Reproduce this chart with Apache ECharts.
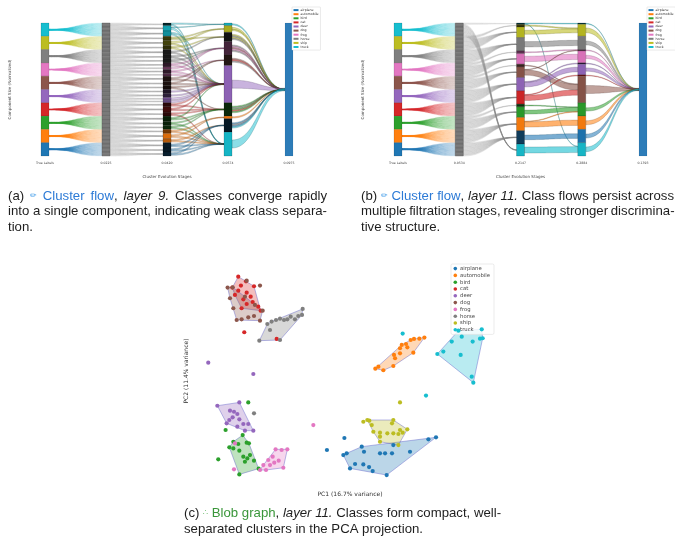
<!DOCTYPE html>
<html><head><meta charset="utf-8">
<script src="https://cdn.jsdelivr.net/npm/echarts@6/dist/echarts.min.js"></script>
<style>html,body{margin:0;padding:0;background:#fff}#c{width:675px;height:537px}</style>
</head><body><div id="c"></div>
<script>
// ---------------- DATA ----------------
const classes = ['airplane','automobile','bird','cat','deer','dog','frog','horse','ship','truck'];
const palette = ['#1f77b4','#ff7f0e','#2ca02c','#d62728','#9467bd','#8c564b','#e377c2','#7f7f7f','#bcbd22','#17becf'];

const stagesA = ['True Labels','0.0225','0.0420','0.0574','0.0975'];
const stagesB = ['True Labels','0.0534','0.2147','0.2884','0.1393'];

// class order of the "True Labels" column, top to bottom
const trueLabelOrder = [9,8,7,6,5,4,3,2,1,0];
const samplesPerClass = 10;

// panel (a) components: [class, size]
const a2 = [[9,2],[9,4],[9,4],[8,3],[8,4],[8,3],[7,4],[7,3],[7,3],[6,3],[6,2],[6,3],[6,2],
            [5,4],[5,3],[5,3],[4,3],[4,3],[4,2],[4,2],[3,3],[3,4],[3,3],[2,4],[2,3],[2,3],
            [1,3],[1,4],[1,3],[0,4],[0,3],[0,3]];
const a3 = [[9,2],[8,5],[7,7],[6,10],[5,8],[4,28],[2,10],[1,2],[0,10],[9,18]];
const a4 = [[0,100]];
// flows [source, target, value, class]
const a23 = [[0,0,1,9],[0,9,1,9],[1,9,1.5,9],[1,0,0.5,9],[2,9,1,9],[2,5,1,9],
  [3,1,1,8],[3,2,1,8],[4,1,1.5,8],[4,5,1,8],[5,2,1,8],[5,5,1,8],
  [6,2,1,7],[6,5,1,7],[7,3,1,7],[7,5,1,7],[8,3,1,7],[8,5,1,7],
  [9,3,1,6],[9,5,1,6],[10,3,1,6],[11,5,1,6],[11,4,1,6],[12,5,1,6],
  [13,4,1,5],[13,5,1,5],[14,5,1,5],[14,4,1,5],[15,5,1,5],[15,6,1,5],
  [16,5,1,4],[17,5,1,4],[18,5,1.5,4],[19,5,1.5,4],
  [20,5,1,3],[20,6,1,3],[21,5,1,3],[21,6,1,3],[22,6,1,3],[22,9,1,3],
  [23,6,1,2],[23,5,1,2],[24,6,1,2],[24,9,1,2],[25,9,1,2],[25,6,1,2],
  [26,7,1,1],[26,9,1,1],[27,9,1,1],[27,7,1,1],[28,9,1,1],[28,8,1,1],
  [29,8,1,0],[29,9,1,0],[30,8,1,0],[30,9,1,0],[31,9,1,0],[31,8,1,0]];
const a34 = [[0,0,1,9],[1,0,1.5,8],[1,0,1,8],[2,0,1,8],[2,0,1,7],[2,0,1,8],[2,0,1,7],
  [3,0,1,7],[3,0,1,6],[3,0,1,5],[3,0,1,6],[3,0,1,7],[4,0,1,5],[4,0,1,3],[4,0,1,7],
  [5,0,6,4],[6,0,1,2],[6,0,1,7],[6,0,1,2],[6,0,1,3],[6,0,1,2],[7,0,1,1],
  [8,0,1,0],[8,0,1,7],[8,0,1,0],[8,0,1,9],[9,0,6,9]];

// panel (b) components
const b2 = [[9,1],[8,2],[8,8],[7,10],[6,2],[6,8],[5,2],[5,8],[4,10],[3,10],[2,2],[2,8],[1,10],[0,10],[9,9]];
const b3 = [[9,1],[8,9],[7,10],[6,1],[6,9],[4,1],[4,8],[3,1],[5,20],[2,10],[1,10],[0,10],[9,10]];
const b4 = [[0,100]];
const b23 = [[0,0,0.5,9],[0,12,0.4,9],[1,1,0.8,8],[2,1,3,8],[3,2,4,7],[4,3,0.6,6],[5,4,4,6],
  [6,8,0.6,5],[7,8,4,5],[7,3,0.4,5],[8,6,3.5,4],[8,5,0.6,4],[9,8,4,3],[9,7,0.6,3],
  [10,9,0.6,2],[11,9,3,2],[12,10,4,1],[12,9,0.5,1],[13,11,3.5,0],[14,12,4.5,9]];
const b34 = [[0,0,0.5,9],[1,0,3.5,8],[2,0,3,7],[3,0,0.5,6],[4,0,2.5,6],[5,0,0.5,4],[6,0,2.5,4],
  [7,0,0.5,3],[8,0,6,5],[9,0,2.5,2],[10,0,3,1],[11,0,3,0],[12,0,3.5,9]];

// panel (c) PCA scores: points inside each blob, and stray points
const airplanePts = [[0.75,-4.0],[1.88,-3.5],[2.05,-3.88],[3.25,-4.0],[3.63,-4.0],[4.15,-4.0],[4.25,-3.38],[5.5,-3.88],[6.88,-2.95],[7.45,-2.8],[1.38,-4.8],[2.0,-4.83],[2.43,-5.03],[2.7,-5.33],[1.0,-5.13],[3.75,-5.63],[0.5,-4.13]];
const airplaneOut = [[0.58,-2.85],[-0.73,-3.75]];
const automobilePts = [[3.13,2.5],[3.5,2.23],[4.25,2.55],[4.38,3.13],[4.75,3.5],[4.3,3.38],[4.75,3.88],[4.88,4.13],[5.2,4.2],[5.3,3.95],[5.55,4.5],[5.8,4.58],[6.2,4.6],[6.58,4.68],[5.75,3.55],[2.9,2.35]];
const automobileOut = [];
const birdPts = [[-7.05,-2.63],[-7.75,-3.13],[-8.05,-3.55],[-7.38,-3.3],[-6.75,-3.2],[-6.58,-3.25],[-7.3,-3.8],[-7.0,-4.25],[-6.7,-4.38],[-6.5,-4.13],[-6.88,-4.63],[-6.2,-4.55],[-7.3,-5.58],[-5.85,-5.15],[-7.75,-3.63]];
const birdOut = [[-6.63,-0.18],[-8.33,-2.25],[-8.88,-4.45]];
const catPts = [[-7.38,9.25],[-6.8,8.9],[-6.2,8.53],[-7.83,8.43],[-7.18,8.58],[-7.38,8.2],[-6.75,8.05],[-7.63,7.88],[-6.45,7.75],[-7.0,7.55],[-6.3,7.35],[-6.75,7.2],[-5.88,7.0],[-5.7,6.7],[-7.13,6.88]];
const catOut = [[-6.93,5.08],[-4.5,4.58]];
const deerPts = [[-8.95,-0.43],[-7.3,-0.18],[-8.0,-0.8],[-7.7,-0.88],[-7.45,-1.05],[-7.8,-1.3],[-7.3,-1.45],[-8.05,-1.5],[-7.0,-1.8],[-6.63,-1.8],[-6.88,-2.3],[-6.25,-2.3],[-7.45,-2.0],[-8.25,-1.75]];
const deerOut = [[-9.63,2.8],[-6.25,1.95]];
const dogPts = [[-8.18,8.43],[-7.8,8.45],[-6.88,7.75],[-6.13,7.13],[-5.55,6.7],[-5.75,5.95],[-6.2,6.3],[-6.63,6.2],[-7.13,6.05],[-7.5,6.0],[-7.75,6.88],[-8.0,7.63]];
const dogOut = [[-5.75,8.58],[-6.75,8.95]];
const frogPts = [[-5.75,-5.25],[-5.5,-4.88],[-5.13,-4.5],[-4.8,-4.25],[-4.58,-3.7],[-4.13,-3.75],[-3.7,-3.7],[-5.0,-4.88],[-4.68,-4.7],[-4.35,-4.55],[-4.0,-5.08],[-5.3,-5.25]];
const frogOut = [[-1.75,-1.88],[-7.7,-5.2],[-7.63,-3.25]];
const horsePts = [[-5.8,4.45],[-5.2,5.7],[-4.88,5.88],[-4.55,6.0],[-4.25,6.1],[-3.95,6.0],[-3.7,6.05],[-3.45,6.25],[-3.13,6.05],[-2.88,6.3],[-2.55,6.83],[-2.6,6.38],[-5.0,5.25],[-4.25,4.5]];
const horseOut = [[-6.2,-1.0]];
const shipPts = [[2.45,-1.55],[2.63,-1.88],[2.75,-2.38],[3.25,-2.45],[3.8,-2.5],[4.15,-1.75],[4.25,-2.5],[4.63,-2.55],[4.75,-2.25],[4.95,-2.45],[5.3,-2.2],[4.63,-3.38],[3.25,-3.13],[3.25,-2.75],[4.25,-1.5],[2.3,-1.5]];
const shipOut = [[2.0,-1.63],[4.75,-0.18]];
const truckPts = [[7.55,3.45],[8.0,3.63],[8.63,4.38],[9.3,3.38],[9.38,4.75],[10.2,4.38],[10.75,4.6],[10.95,4.63],[10.13,1.75],[10.25,1.3],[10.88,5.3],[9.13,5.2]];
const truckOut = [[4.95,4.98],[6.7,0.33]];

const pc1Title = 'PC1 (16.7% variance)';
const pc2Title = 'PC2 (11.4% variance)';

const captionA = ['(a) {ic|✏} {bl|Cluster} {bl|flow}, {it|layer} {it|9.} Classes converge rapidly',
                  'into a single component, indicating weak class separa-', 'tion.'];
const captionB = ['(b) {ic|✏} {bl|Cluster} {bl|flow}, {it|layer} {it|11.} Class flows persist across',
                  'multiple filtration stages, revealing stronger discrimina-', 'tive structure.'];
const captionC = ['(c) {icg|∴} {gr|Blob} {gr|graph}, {it|layer} {it|11.} Classes form compact, well-',
                  'separated clusters in the PCA projection.'];

// ---------------- STYLE / LAYOUT ----------------
const NODE_W = 8;
const shadeA2 = [0.8,0.15,0.25, 0.7,0.65,0.75, 0.8,0.8,0.8, 0.8,0.55,0.8,0.65, 0.8,0.8,0.85, 0.8,0.7,0.25,0.35, 0.8,0.7,0.8, 0.8,0.8,0.75, 0.55,0.15,0.3, 0.8,0.8,0.75];
const shadeA3 = [0.1,0.1,0.85,0.7,0.75,0.05,0.75,0.1,0.8,0.05];
const shadeB2 = [0.7,0.7,0.05,0.05,0.6,0.05,0.6,0.05,0.05,0.05,0.7,0.05,0.05,0.5,0.05];
const shadeB3 = [0.7,0.05,0.05,0.7,0.05,0.7,0.05,0.5,0.05,0.05,0.05,0.05,0.05];
const modesA = [
  {src:'center', sk:0.8, tgt:'stack', tk:1, kind:'fade'},
  {src:'stack', sk:1, tgt:'center', tk:0.6, kind:'gray'},
  {src:'stack', sk:1, tgt:'center', tk:0.4, kind:'class', alpha:0.35},
  {src:'stack', sk:1, tgt:'center', tk:0.3, kind:'class', alpha:0.5}];
const modesB = [
  {src:'center', sk:0.8, tgt:'stack', tk:1, kind:'fade'},
  {src:'stack', sk:1, tgt:'center', tk:0.25, kind:'gray'},
  {src:'stack', sk:1, tgt:'stack', tk:1, kind:'class', alpha:0.6},
  {src:'stack', sk:1, tgt:'center', tk:0.3, kind:'class', alpha:0.55}];

function hexRGB(h){return [parseInt(h.slice(1,3),16),parseInt(h.slice(3,5),16),parseInt(h.slice(5,7),16)];}
function rgba(h,a){const c=hexRGB(h);return `rgba(${c[0]},${c[1]},${c[2]},${a})`;}
function darken(h,s,a){const c=hexRGB(h).map(v=>Math.round(v*(1-s)));return a==null?`rgb(${c[0]},${c[1]},${c[2]})`:`rgba(${c[0]},${c[1]},${c[2]},${a})`;}

function buildSankey(s2, s3, s4, l23, l34, sh2, sh3, modes){
  const st = [];
  st.push(trueLabelOrder.map(c=>({cls:c,size:samplesPerClass,fill:palette[c],stroke:'rgba(0,0,0,0.3)',lw:0.4})));
  const s1=[]; trueLabelOrder.forEach(c=>{for(let i=0;i<samplesPerClass;i++) s1.push({cls:c,size:1,fill:'#818181',stroke:'#4f4f4f',lw:0.35});});
  st.push(s1);
  st.push(s2.map((d,i)=>({cls:d[0],size:d[1],fill:darken(palette[d[0]],sh2[i]),stroke:'rgba(0,0,0,0.45)',lw:0.4})));
  st.push(s3.map((d,i)=>({cls:d[0],size:d[1],fill:darken(palette[d[0]],sh3[i]),stroke:'rgba(0,0,0,0.4)',lw:0.4})));
  st.push(s4.map(d=>({cls:d[0],size:d[1],fill:'#2d7cb8',stroke:'rgba(0,0,0,0.2)',lw:0.3})));
  st.forEach(ns=>{let acc=0;ns.forEach(n=>{n.y0=acc;acc+=n.size;n.y1=acc;n.c=(n.y0+n.y1)/2;});});
  const L=[[],[],[],[]];
  let k=0;
  trueLabelOrder.forEach((c,i)=>{for(let j=0;j<samplesPerClass;j++){L[0].push({s:i,t:k,v:1,cls:c});k++;}});
  const cap=st[2].map(n=>n.size);
  s1.forEach((n,idx)=>{const t=st[2].findIndex((m,j)=>m.cls===n.cls&&cap[j]>0);cap[t]-=1;L[1].push({s:idx,t:t,v:1,cls:7});});
  l23.forEach(d=>L[2].push({s:d[0],t:d[1],v:d[2],cls:d[3]}));
  l34.forEach(d=>L[3].push({s:d[0],t:d[1],v:d[2],cls:d[3]}));
  const elems=[];
  L.forEach((links,si)=>{
    const m=modes[si], A=st[si], B=st[si+1];
    const bySrc={}; links.forEach(l=>{(bySrc[l.s]=bySrc[l.s]||[]).push(l);});
    Object.keys(bySrc).forEach(key=>{
      const arr=bySrc[key], n=A[key];
      if(m.src==='center'){arr.forEach(l=>{const w=l.v*m.sk;l.a0=n.c-w/2;l.a1=n.c+w/2;});}
      else{const srt=arr.slice().sort((p,q)=>B[p.t].c-B[q.t].c);const tot=srt.reduce((s,l)=>s+l.v*m.sk,0);let y=n.c-tot/2;srt.forEach(l=>{l.a0=y;y+=l.v*m.sk;l.a1=y;});}
    });
    const byTgt={}; links.forEach(l=>{(byTgt[l.t]=byTgt[l.t]||[]).push(l);});
    Object.keys(byTgt).forEach(key=>{
      const arr=byTgt[key], n=B[key];
      if(m.tgt==='center'){arr.forEach(l=>{const w=l.v*m.tk;l.b0=n.c-w/2;l.b1=n.c+w/2;});}
      else{const srt=arr.slice().sort((p,q)=>A[p.s].c-A[q.s].c);const tot=srt.reduce((s,l)=>s+l.v*m.tk,0);let y=n.c-tot/2;srt.forEach(l=>{l.b0=y;y+=l.v*m.tk;l.b1=y;});}
    });
    links.forEach(l=>{
      const col=palette[l.cls];
      let fill,stroke,lw;
      if(m.kind==='fade'){fill=new echarts.graphic.LinearGradient(0,0,1,0,[{offset:0,color:rgba(col,0.7)},{offset:1,color:rgba(col,0.2)}]);stroke=rgba(col,0.22);lw=0.3;}
      else if(m.kind==='gray'){fill='rgba(175,175,175,0.26)';stroke='rgba(120,120,120,0.35)';lw=0.35;}
      else{fill=rgba(col,m.alpha);stroke=darken(col,0.55,0.55);lw=0.4;}
      elems.push({kind:'link',sa:si,sb:si+1,a0:l.a0,a1:l.a1,b0:l.b0,b1:l.b1,fill,stroke,lw});
    });
  });
  st.forEach((ns,si)=>ns.forEach(n=>elems.push({kind:'node',stage:si,y0:n.y0,y1:n.y1,fill:n.fill,stroke:n.stroke,lw:n.lw})));
  return elems;
}

function bez(xa,ya,xb,yb,t){const xm=(xa+xb)/2,u=1-t;
  return [u*u*u*xa+3*u*u*t*xm+3*u*t*t*xm+t*t*t*xb, ya*(u*u*u+3*u*u*t)+yb*(3*u*t*t+t*t*t)];}

function sankeySeries(elems, gi){
  return {type:'custom', name:'flow'+gi, xAxisIndex:gi, yAxisIndex:gi, clip:false, silent:true, animation:false,
    data: elems.map(e=>[e.kind==='node'?e.stage:e.sa, e.kind==='node'?e.y0:e.a0]),
    renderItem:(params,api)=>{
      const e=elems[params.dataIndex];
      if(e.kind==='node'){
        const p0=api.coord([e.stage,e.y0]),p1=api.coord([e.stage,e.y1]);
        return {type:'rect',shape:{x:p0[0]-NODE_W/2,y:p0[1],width:NODE_W,height:p1[1]-p0[1]},style:{fill:e.fill,stroke:e.stroke,lineWidth:e.lw}};
      }
      const a0=api.coord([e.sa,e.a0]),a1=api.coord([e.sa,e.a1]),b0=api.coord([e.sb,e.b0]),b1=api.coord([e.sb,e.b1]);
      const xa=a0[0]+NODE_W/2, xb=b0[0]-NODE_W/2, N=28, pts=[];
      for(let i=0;i<=N;i++) pts.push(bez(xa,a0[1],xb,b0[1],i/N));
      for(let i=N;i>=0;i--) pts.push(bez(xa,a1[1],xb,b1[1],i/N));
      return {type:'polygon',shape:{points:pts},style:{fill:e.fill,stroke:e.stroke,lineWidth:e.lw}};
    }};
}

const elemsA = buildSankey(a2,a3,a4,a23,a34,shadeA2,shadeA3,modesA);
const elemsB = buildSankey(b2,b3,b4,b23,b34,shadeB2,shadeB3,modesB);

const pts = [airplanePts,automobilePts,birdPts,catPts,deerPts,dogPts,frogPts,horsePts,shipPts,truckPts];
const outs = [airplaneOut,automobileOut,birdOut,catOut,deerOut,dogOut,frogOut,horseOut,shipOut,truckOut];

function hull(p){
  const s=p.slice().sort((a,b)=>a[0]-b[0]||a[1]-b[1]);
  const cr=(o,a,b)=>(a[0]-o[0])*(b[1]-o[1])-(a[1]-o[1])*(b[0]-o[0]);
  const lo=[],up=[];
  for(const q of s){while(lo.length>=2&&cr(lo[lo.length-2],lo[lo.length-1],q)<=0)lo.pop();lo.push(q);}
  for(const q of s.slice().reverse()){while(up.length>=2&&cr(up[up.length-2],up[up.length-1],q)<=0)up.pop();up.push(q);}
  return lo.slice(0,-1).concat(up.slice(0,-1));
}
const hulls = pts.map(hull);

// ---------------- AXES ----------------
const FONT_M = 'DejaVu Sans';
function sankeyAxes(gi, labels){
  return {
    x:{type:'value',gridIndex:gi,min:0,max:4,interval:1,
       axisLine:{show:false},axisTick:{show:false},splitLine:{show:false},
       axisLabel:{show:true,showMinLabel:true,showMaxLabel:true,formatter:v=>labels[v]||'',fontSize:3.2,color:'#444',margin:6,fontFamily:FONT_M},
       name:'Cluster Evolution Stages',nameLocation:'middle',nameGap:19,nameTextStyle:{fontSize:4,color:'#444',fontFamily:FONT_M}},
    y:{type:'value',gridIndex:gi,min:0,max:100,inverse:true,
       axisLine:{show:false},axisTick:{show:false},splitLine:{show:false},axisLabel:{show:false},
       name:'Component Size (Normalized)',nameLocation:'middle',nameGap:33,nameRotate:90,nameTextStyle:{fontSize:4,color:'#444',fontFamily:FONT_M}}
  };
}
const axA=sankeyAxes(0,stagesA), axB=sankeyAxes(1,stagesB);

function legendAt(left,top,icon,small){
  return small ? {left,top,orient:'vertical',selectedMode:false,
      data:classes.map(n=>({name:n,icon:icon})),itemWidth:5,itemHeight:2,itemGap:0.9,
      textStyle:{fontSize:3.2,lineHeight:3.2,color:'#333',fontFamily:FONT_M,padding:[0,0,0,-3]},
      padding:[1.5,2,1.5,1.5],borderColor:'#ccc',borderWidth:0.4,borderRadius:0.5,backgroundColor:'#fff'}
   : {left,top,orient:'vertical',selectedMode:false,
      data:classes.map(n=>({name:n,icon:icon})),itemWidth:3.6,itemHeight:3.6,itemGap:1.6,
      textStyle:{fontSize:5.3,lineHeight:5.2,color:'#444',fontFamily:FONT_M,padding:[0,0,0,-2]},
      padding:[2,4,2,2.5],borderColor:'#ddd',borderWidth:0.6,borderRadius:1.5,backgroundColor:'rgba(255,255,255,0.8)'};
}

// ---------------- CAPTIONS ----------------
const CAP = 13.2;
const capFonts = {
  n:{font:CAP+'px "Liberation Sans"',fill:'#1e1e1e'},
  it:{font:'italic '+CAP+'px "Liberation Sans"',fill:'#1e1e1e'},
  bl:{font:CAP+'px "Liberation Sans"',fill:'#2c7ad6'},
  gr:{font:CAP+'px "Liberation Sans"',fill:'#3a963a'},
  ic:{font:'8px "DejaVu Sans"',fill:'#4aa0ea'},
  icg:{font:'8px "DejaVu Sans"',fill:'#72bf72'}
};
const mctx=document.createElement('canvas').getContext('2d');
function tw(t,tag){mctx.font=capFonts[tag].font;return mctx.measureText(t).width;}
function parseWord(w){const segs=[];const re=/\{(\w+)\|([^}]*)\}|([^{]+)/g;let m;while((m=re.exec(w))){if(m[1])segs.push([m[2],m[1]]);else segs.push([m[3],'n']);}return segs;}
function captionEls(lines,x,ys,width,justify){
  const els=[];const sp=tw(' ','n');
  lines.forEach((line,li)=>{
    const words=line.split(' ').map(parseWord);
    const ww=words.map(ss=>ss.reduce((s,g)=>s+tw(g[0],g[1]),0));
    const nat=ww.reduce((a,b)=>a+b,0)+sp*(words.length-1);
    let gap=sp;
    if(justify[li]&&words.length>1) gap=Math.max(sp*0.75, sp+(width-nat)/(words.length-1));
    let cx=x;
    words.forEach((ss,wi)=>{
      ss.forEach(g=>{els.push({type:'text',x:cx,y:ys[li],silent:true,style:{text:g[0],font:capFonts[g[1]].font,fill:capFonts[g[1]].fill,verticalAlign:'middle',align:'left'}});cx+=tw(g[0],g[1]);});
      cx+=gap;
    });
  });
  return els;
}
const graphicEls = [].concat(
  captionEls(captionA,8,[196,211.5,227],319,[true,true,false]),
  captionEls(captionB,361,[196,211.5,227],313,[true,true,false]),
  captionEls(captionC,184,[513,529],0,[false,false])
);

// ---------------- OPTION ----------------
const chart = echarts.init(document.getElementById('c'),null,{renderer:'canvas'});
const scatterSeries = classes.map((n,i)=>({
  type:'scatter',name:n,xAxisIndex:2,yAxisIndex:2,symbolSize:4.2,animation:false,z:4,
  itemStyle:{color:palette[i],opacity:1},
  data:pts[i].concat(outs[i])
}));
const hullSeries = {type:'custom',name:'blobs',xAxisIndex:2,yAxisIndex:2,clip:false,silent:true,animation:false,z:2,
  data:hulls.map(h=>h[0]),
  renderItem:(params,api)=>{
    const i=params.dataIndex;
    return {type:'polygon',shape:{points:hulls[i].map(p=>api.coord(p))},
      style:{fill:rgba(palette[i],0.3),stroke:'rgba(95,95,200,0.55)',lineWidth:0.8}};
  }};

chart.setOption({
  backgroundColor:'#ffffff',
  animation:false,
  grid:[
    {left:45,top:23,width:244,height:133},
    {left:398,top:23,width:245,height:133},
    {left:200,top:260,width:300,height:222}
  ],
  xAxis:[axA.x,axB.x,
    {type:'value',gridIndex:2,min:-10.25,max:12.25,axisLine:{show:false},axisTick:{show:false},splitLine:{show:false},axisLabel:{show:false},
     name:pc1Title,nameLocation:'middle',nameGap:9,nameTextStyle:{fontSize:6,color:'#333',fontFamily:FONT_M}}],
  yAxis:[axA.y,axB.y,
    {type:'value',gridIndex:2,min:-6.15,max:10.5,axisLine:{show:false},axisTick:{show:false},splitLine:{show:false},axisLabel:{show:false},
     name:pc2Title,nameLocation:'middle',nameGap:11,nameRotate:90,nameTextStyle:{fontSize:6,color:'#333',fontFamily:FONT_M}}],
  legend:[legendAt(292,7,'rect',true),legendAt(647,7,'rect',true),legendAt(451,264,'circle',false)],
  series:[sankeySeries(elemsA,0),sankeySeries(elemsB,1),hullSeries].concat(scatterSeries),
  graphic:{elements:graphicEls}
});
</script></body></html>
